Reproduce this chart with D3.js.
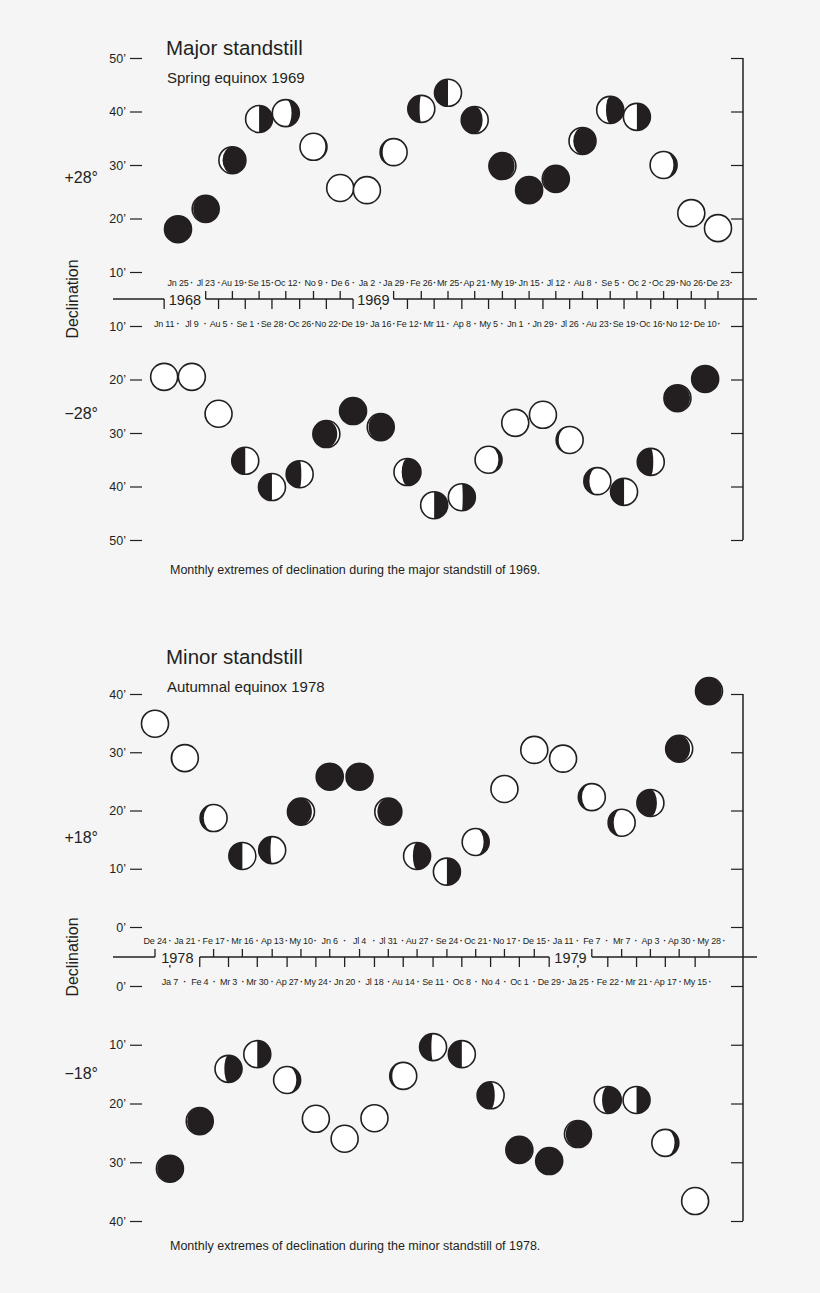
<!DOCTYPE html>
<html>
<head>
<meta charset="utf-8">
<script src="https://cdn.jsdelivr.net/npm/d3@7"></script>
<style>
  html, body { margin: 0; padding: 0; background: #f5f5f5; }
  svg { display: block; }
  text { font-family: "Liberation Sans", Arial, Helvetica, sans-serif; fill: #231f20; }
</style>
</head>
<body>
<div id="chart"></div>
<script>
// ---------------- DATA ----------------
// Major standstill 1969 – northern extremes (+28° + arcmin)
const majorUpperDates = ["1968-06-25","1968-07-23","1968-08-19","1968-09-15","1968-10-12","1968-11-09","1968-12-06","1969-01-02","1969-01-29","1969-02-26","1969-03-25","1969-04-21","1969-05-19","1969-06-15","1969-07-12","1969-08-08","1969-09-05","1969-10-02","1969-10-29","1969-11-26","1969-12-23"];
const majorUpperLabels = ["Jn 25","Jl 23","Au 19","Se 15","Oc 12","No 9","De 6","Ja 2","Ja 29","Fe 26","Mr 25","Ap 21","My 19","Jn 15","Jl 12","Au 8","Se 5","Oc 2","Oc 29","No 26","De 23"];
const majorUpperDecl = [18.0,21.8,30.9,38.6,39.7,33.4,25.7,25.3,32.4,40.5,43.5,38.4,29.8,25.3,27.4,34.5,40.3,39.0,30.0,21.0,18.2];
const majorUpperPhase = [0,0.94,0.88,0.75,0.68,0.58,0.53,0.5,0.4,0.27,0.25,0.15,0.07,0,0.95,0.87,0.8,0.75,0.62,0.55,0.5];
// Major standstill 1969 – southern extremes (−28° − arcmin)
const majorLowerDates = ["1968-06-11","1968-07-09","1968-08-05","1968-09-01","1968-09-28","1968-10-26","1968-11-22","1968-12-19","1969-01-16","1969-02-12","1969-03-11","1969-04-08","1969-05-05","1969-06-01","1969-06-29","1969-07-26","1969-08-23","1969-09-19","1969-10-16","1969-11-12","1969-12-10"];
const majorLowerLabels = ["Jn 11","Jl 9","Au 5","Se 1","Se 28","Oc 26","No 22","De 19","Ja 16","Fe 12","Mr 11","Ap 8","My 5","Jn 1","Jn 29","Jl 26","Au 23","Se 19","Oc 16","No 12","De 10"];
const majorLowerDecl = [19.5,19.5,26.4,35.2,40.1,37.7,30.2,25.9,28.9,37.3,43.5,42.0,35.0,28.1,26.6,31.3,39.0,41.0,35.4,23.5,19.9];
const majorLowerPhase = [0.5,0.5,0.45,0.25,0.25,0.23,0.1,0,0.93,0.82,0.75,0.74,0.62,0.55,0.5,0.4,0.35,0.25,0.22,0.06,0];
const majorYears = ["1968","1969"];
const majorTicks = [10,20,30,40,50];

// Minor standstill 1978 – northern extremes (+18° + arcmin)
const minorUpperDates = ["1977-12-24","1978-01-21","1978-02-17","1978-03-16","1978-04-13","1978-05-10","1978-06-06","1978-07-04","1978-07-31","1978-08-27","1978-09-24","1978-10-21","1978-11-17","1978-12-15","1979-01-11","1979-02-07","1979-03-07","1979-04-03","1979-04-30","1979-05-28"];
const minorUpperLabels = ["De 24","Ja 21","Fe 17","Mr 16","Ap 13","My 10","Jn 6","Jl 4","Jl 31","Au 27","Se 24","Oc 21","No 17","De 15","Ja 11","Fe 7","Mr 7","Ap 3","Ap 30","My 28"];
const minorUpperDecl = [34.9,29.0,18.7,12.2,13.2,19.8,25.8,25.8,19.8,12.2,9.5,14.6,23.7,30.4,28.9,22.3,17.9,21.3,30.6,40.5];
const minorUpperPhase = [0.5,0.44,0.38,0.25,0.27,0.1,0,0,0.9,0.8,0.75,0.65,0.54,0.5,0.46,0.38,0.35,0.17,0.1,0.05];
// Minor standstill 1978 – southern extremes (−18° − arcmin)
const minorLowerDates = ["1978-01-07","1978-02-04","1978-03-03","1978-03-30","1978-04-27","1978-05-24","1978-06-20","1978-07-18","1978-08-14","1978-09-11","1978-10-08","1978-11-04","1978-12-01","1978-12-29","1979-01-25","1979-02-22","1979-03-21","1979-04-17","1979-05-15"];
const minorLowerLabels = ["Ja 7","Fe 4","Mr 3","Mr 30","Ap 27","My 24","Jn 20","Jl 18","Au 14","Se 11","Oc 8","No 4","Oc 1","De 29","Ja 25","Fe 22","Mr 21","Ap 17","My 15"];
const minorLowerDecl = [31.1,23.0,14.1,11.6,16.0,22.6,26.0,22.5,15.3,10.4,11.6,18.6,27.9,29.8,25.2,19.4,19.4,26.7,36.6];
const minorLowerPhase = [0.95,0.94,0.8,0.75,0.63,0.53,0.5,0.48,0.4,0.27,0.25,0.2,0.05,0,0.93,0.82,0.75,0.63,0.55];
const minorYears = ["1978","1979"];
const minorTicks = [0,10,20,30,40];

// ---------------- DRAW ----------------
const W = 820, H = 1293;
const INK = "#231f20";
const svg = d3.select("#chart").append("svg").attr("width", W).attr("height", H);
svg.append("rect").attr("width", W).attr("height", H).attr("fill", "#f5f5f5");
const parse = d3.timeParse("%Y-%m-%d");

function moonPath(p, r) {
  const c = Math.cos(2 * Math.PI * p);
  const s = p < 0.5 ? -1 : 1;
  const rx = Math.abs(c) * r;
  const b = c > 0 ? -s : s;
  const sw1 = s > 0 ? 1 : 0;
  const sw2 = b > 0 ? 0 : 1;
  return `M0,${-r}A${r},${r} 0 0 ${sw1} 0,${r}A${rx},${r} 0 0 ${sw2} 0,${-r}Z`;
}

function drawPanel(cfg) {
  const g = svg.append("g");
  const x = d3.scaleTime().domain(cfg.xDomain.map(parse)).range(cfg.xRange);
  const yU = d3.scaleLinear().domain(cfg.yDomain).range(cfg.yUpperRange);
  const yL = d3.scaleLinear().domain(cfg.yDomain).range(cfg.yLowerRange);
  const y0 = cfg.baseY;

  // titles
  g.append("text").attr("x", 166).attr("y", cfg.titleY).attr("font-size", 20.5).text(cfg.title);
  g.append("text").attr("x", 167).attr("y", cfg.titleY + 28).attr("font-size", 15).text(cfg.subtitle);
  g.append("text").attr("x", 170).attr("y", cfg.captionY).attr("font-size", 12.5).text(cfg.caption);
  g.append("text").attr("x", 98).attr("y", cfg.plusY).attr("font-size", 16).attr("text-anchor", "end").text(cfg.plus);
  g.append("text").attr("x", 98).attr("y", cfg.minusY).attr("font-size", 16).attr("text-anchor", "end").text(cfg.minus);
  g.append("text").attr("transform", `translate(78,${y0}) rotate(-90)`).attr("font-size", 16)
    .attr("text-anchor", "middle").text("Declination");

  // left axes (ticks + labels, no domain line)
  const fmt = d => d + "\u2019";
  [yU, yL].forEach(sc => {
    const ax = g.append("g").attr("transform", "translate(142,0)")
      .call(d3.axisLeft(sc).tickValues(cfg.ticks).tickSize(12).tickPadding(4).tickFormat(fmt));
    ax.select(".domain").remove();
    ax.selectAll("line").attr("stroke", INK).attr("stroke-width", 1.2);
    ax.selectAll("text").attr("font-size", 12.5).attr("fill", INK)
      .attr("font-family", "Liberation Sans, Arial, sans-serif");
  });
  // right axes
  [yU, yL].forEach(sc => {
    const ax = g.append("g").attr("transform", "translate(743,0)")
      .call(d3.axisLeft(sc).tickValues(cfg.ticks).tickSize(12).tickFormat(""));
    ax.select(".domain").remove();
    ax.selectAll("line").attr("stroke", INK).attr("stroke-width", 1.2);
  });
  const top = yU(cfg.yDomain[1]), bot = yL(cfg.yDomain[1]);
  g.append("line").attr("x1", 743).attr("x2", 743).attr("y1", top).attr("y2", bot)
    .attr("stroke", INK).attr("stroke-width", 1.5);

  // time axis line with year gaps
  const up = cfg.upperDates.map(parse), lo = cfg.lowerDates.map(parse);
  const gaps = cfg.gaps.map(([a, b]) => [x(a[0] === "u" ? up[a[1]] : lo[a[1]]), x(b[0] === "u" ? up[b[1]] : lo[b[1]])]);
  const segs = [[113, gaps[0][0]], [gaps[0][1], gaps[1][0]], [gaps[1][1], 757]];
  segs.forEach(([a, b]) => g.append("line").attr("x1", a).attr("x2", b).attr("y1", y0).attr("y2", y0)
    .attr("stroke", INK).attr("stroke-width", 1.3));
  const inGap = xx => gaps.some(([a, b]) => xx > a + 1 && xx < b - 1);
  up.forEach(d => { const xx = x(d); if (!inGap(xx)) g.append("line").attr("x1", xx).attr("x2", xx).attr("y1", y0).attr("y2", y0 - 8).attr("stroke", INK).attr("stroke-width", 1.3); });
  lo.forEach(d => {
    const xx = x(d);
    if (!inGap(xx)) g.append("line").attr("x1", xx).attr("x2", xx).attr("y1", y0).attr("y2", y0 + 10).attr("stroke", INK).attr("stroke-width", 1.3);
    else g.append("line").attr("x1", xx).attr("x2", xx).attr("y1", y0 + 8).attr("y2", y0 + 10.5).attr("stroke", INK).attr("stroke-width", 1.3);
  });
  gaps.forEach(([a, b], i) => g.append("text").attr("x", (a + b) / 2).attr("y", y0 + 5.5).attr("font-size", 14.5)
    .attr("text-anchor", "middle").text(cfg.years[i]));

  // date labels with separators
  function labelRow(dates, labels, yy) {
    const xs = dates.map(x);
    labels.forEach((t, i) => {
      g.append("text").attr("x", xs[i]).attr("y", yy).attr("font-size", 9).attr("letter-spacing", -0.2)
        .attr("text-anchor", "middle").text(t);
      const nx = i < xs.length - 1 ? (xs[i] + xs[i + 1]) / 2 : xs[i] + (xs[i] - xs[i - 1]) / 2;
      g.append("text").attr("x", nx).attr("y", yy).attr("font-size", 9).attr("font-weight", "bold")
        .attr("text-anchor", "middle").text("\u00b7");
    });
  }
  labelRow(up, cfg.upperLabels, y0 - 13);
  labelRow(lo, cfg.lowerLabels, y0 + 28);

  // moons
  const R = 13.5;
  function moons(dates, decl, phase, ys) {
    dates.forEach((d, i) => {
      const m = g.append("g").attr("transform", `translate(${x(d)},${ys(decl[i])})`);
      m.append("circle").attr("r", R).attr("fill", "#fff").attr("stroke", INK).attr("stroke-width", 1.6);
      if (Math.abs(phase[i] - 0.5) > 0.001) m.append("path").attr("d", moonPath(phase[i], R)).attr("fill", INK);
    });
  }
  moons(up, cfg.upperDecl, cfg.upperPhase, yU);
  moons(lo, cfg.lowerDecl, cfg.lowerPhase, yL);
}

drawPanel({
  title: "Major standstill", subtitle: "Spring equinox 1969", titleY: 55,
  caption: "Monthly extremes of declination during the major standstill of 1969.", captionY: 574,
  plus: "+28\u00b0", minus: "\u221228\u00b0", plusY: 183, minusY: 419,
  xDomain: ["1968-06-25", "1969-12-23"], xRange: [178, 718],
  yDomain: [0, 50], yUpperRange: [325.5, 58], yLowerRange: [272.5, 540], ticks: majorTicks,
  baseY: 299,
  upperDates: majorUpperDates, upperLabels: majorUpperLabels, upperDecl: majorUpperDecl, upperPhase: majorUpperPhase,
  lowerDates: majorLowerDates, lowerLabels: majorLowerLabels, lowerDecl: majorLowerDecl, lowerPhase: majorLowerPhase,
  gaps: [[["l", 0], ["u", 1]], [["l", 7], ["u", 8]]], years: majorYears
});

drawPanel({
  title: "Minor standstill", subtitle: "Autumnal equinox 1978", titleY: 664,
  caption: "Monthly extremes of declination during the minor standstill of 1978.", captionY: 1250,
  plus: "+18\u00b0", minus: "\u221218\u00b0", plusY: 843, minusY: 1079,
  xDomain: ["1977-12-24", "1979-05-28"], xRange: [155, 709],
  yDomain: [0, 40], yUpperRange: [927, 694], yLowerRange: [986, 1221], ticks: minorTicks,
  baseY: 957,
  upperDates: minorUpperDates, upperLabels: minorUpperLabels, upperDecl: minorUpperDecl, upperPhase: minorUpperPhase,
  lowerDates: minorLowerDates, lowerLabels: minorLowerLabels, lowerDecl: minorLowerDecl, lowerPhase: minorLowerPhase,
  gaps: [[["u", 0], ["l", 1]], [["l", 13], ["u", 15]]], years: minorYears
});
</script>
</body>
</html>
